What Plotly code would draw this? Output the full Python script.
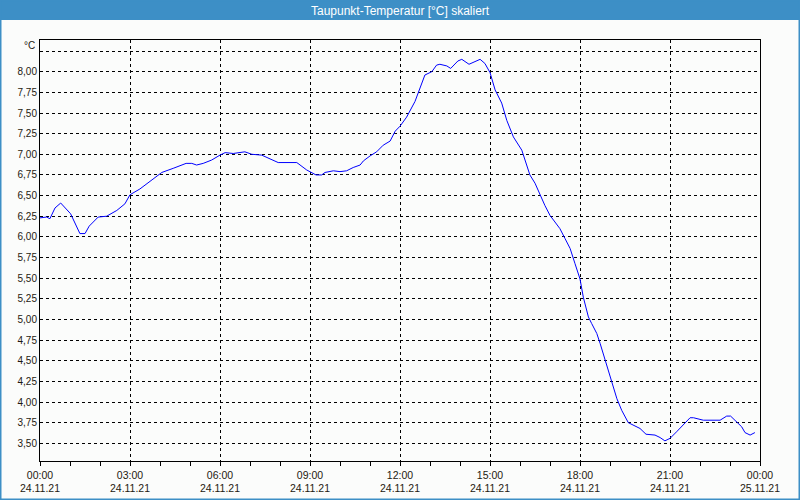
import plotly.graph_objects as go

# ---- data (hours since 24.11.21 00:00, dew point in °C) ----
hours = [0.0, 0.22, 0.33, 0.5, 0.69, 1.02, 1.33, 1.5, 1.64, 1.94, 2.22, 2.56, 2.83, 3.0,
         3.33, 3.67, 4.06, 4.44, 4.87, 5.06, 5.22, 5.44, 5.72, 6.0, 6.17, 6.44, 6.83,
         7.06, 7.39, 7.94, 8.56, 8.89, 9.2, 9.39, 9.5, 9.78, 10.0, 10.22, 10.44, 10.67,
         10.78, 11.0, 11.22, 11.44, 11.67, 11.84, 12.0, 12.22, 12.5, 12.83, 13.06, 13.22,
         13.33, 13.56, 13.69, 13.93, 14.06, 14.3, 14.57, 14.67, 14.83, 15.0, 15.17, 15.39,
         15.56, 15.78, 16.06, 16.17, 16.33, 16.5, 16.67, 16.83, 17.0, 17.17, 17.33, 17.5,
         17.67, 17.83, 18.0, 18.11, 18.28, 18.39, 18.56, 18.67, 18.83, 19.06, 19.23, 19.39,
         19.61, 20.0, 20.2, 20.5, 20.67, 20.83, 21.0, 21.22, 21.44, 21.67, 21.78, 22.11,
         22.67, 22.89, 23.02, 23.22, 23.39, 23.5, 23.67, 23.83]
dewpoint = [6.23, 6.24, 6.22, 6.35, 6.41, 6.28, 6.04, 6.04, 6.13, 6.24, 6.25, 6.32, 6.40, 6.51,
            6.58, 6.67, 6.78, 6.83, 6.89, 6.89, 6.87, 6.89, 6.93, 6.99, 7.02, 7.01, 7.03,
            7.00, 6.99, 6.90, 6.90, 6.81, 6.75, 6.75, 6.78, 6.80, 6.79, 6.80, 6.84, 6.87,
            6.92, 6.98, 7.03, 7.11, 7.16, 7.28, 7.34, 7.45, 7.64, 7.96, 8.00, 8.08,
            8.09, 8.07, 8.04, 8.13, 8.15, 8.09, 8.13, 8.15, 8.10, 7.99, 7.78, 7.62,
            7.41, 7.21, 7.05, 6.93, 6.75, 6.65, 6.50, 6.38, 6.26, 6.18, 6.10, 5.98,
            5.86, 5.68, 5.49, 5.27, 5.03, 4.95, 4.83, 4.71, 4.51, 4.25, 4.04, 3.90,
            3.75, 3.68, 3.61, 3.60, 3.57, 3.53, 3.56, 3.64, 3.72, 3.81, 3.81, 3.78,
            3.78, 3.83, 3.83, 3.76, 3.70, 3.63, 3.60, 3.63]

x_tick_vals = [0, 3, 6, 9, 12, 15, 18, 21, 24]
x_tick_times = ["00:00", "03:00", "06:00", "09:00", "12:00", "15:00", "18:00", "21:00", "00:00"]
x_tick_dates = ["24.11.21"] * 8 + ["25.11.21"]
y_tick_vals = [3.50, 3.75, 4.00, 4.25, 4.50, 4.75, 5.00, 5.25, 5.50, 5.75, 6.00, 6.25,
               6.50, 6.75, 7.00, 7.25, 7.50, 7.75, 8.00, 8.25]
y_tick_text = [f"{v:.2f}".replace(".", ",") for v in y_tick_vals[:-1]] + [""]

title_text = "Taupunkt-Temperatur [°C] skaliert"
unit_text = "°C"

W, H = 800, 500
ML, MR, MT, MB = 40, 40, 40, 39
PW, PH = W - ML - MR, H - MT - MB
BLUE = "#3d8fc6"
BG = "#fbfcfb"
FONT = "Liberation Sans"
TXT = "#1e1a10"

def px(x):
    return (x - ML) / PW

def py(y):
    return (H - MB - y) / PH

fig = go.Figure()
fig.add_trace(go.Scatter(x=hours, y=dewpoint, mode="lines",
                         line=dict(color="#0000ff", width=1), showlegend=False,
                         hoverinfo="skip"))

fig.update_layout(
    width=W, height=H,
    margin=dict(l=ML, r=MR, t=MT, b=MB, pad=0, autoexpand=False),
    paper_bgcolor=BG, plot_bgcolor=BG,
    font=dict(family=FONT, size=10, color=TXT),
    xaxis=dict(
        range=[0, 24], tickmode="array", tickvals=x_tick_vals,
        ticktext=[f"{t}<br>{d}" for t, d in zip(x_tick_times, x_tick_dates)],
        showgrid=True, gridcolor="#000000", gridwidth=1, griddash="3px,3px",
        showline=True, linecolor="#000000", linewidth=1, mirror=True,
        ticks="outside", ticklen=4, tickcolor="#000000", tickwidth=1,
        minor=dict(dtick=1, tick0=0, ticks="outside", ticklen=4, tickcolor="#000000",
                   tickwidth=1, showgrid=False),
        zeroline=False, fixedrange=True, automargin=False, ticklabelstandoff=0,
        tickfont=dict(size=10.5),
    ),
    yaxis=dict(
        range=[3.286, 8.384], tickmode="array", tickvals=y_tick_vals, ticktext=y_tick_text,
        showgrid=True, gridcolor="#000000", gridwidth=1, griddash="3px,3px",
        showline=True, linecolor="#000000", linewidth=1, mirror=True,
        ticks="", zeroline=False, fixedrange=True, automargin=False,
    ),
)

# title bar and frame border
fig.add_shape(type="rect", xref="paper", yref="paper",
              x0=px(0), x1=px(W), y0=py(20), y1=py(0),
              fillcolor=BLUE, line=dict(width=0), layer="below")
fig.add_shape(type="rect", xref="paper", yref="paper",
              x0=px(0.5), x1=px(W - 0.5), y0=py(H - 0.5), y1=py(0.5),
              fillcolor="rgba(0,0,0,0)", line=dict(color=BLUE, width=2))

fig.add_annotation(text=title_text, xref="paper", yref="paper", x=px(400), y=py(10.5),
                   xanchor="center", yanchor="middle", showarrow=False,
                   font=dict(family=FONT, size=12, color="#ffffff"))
fig.add_annotation(text=unit_text, xref="paper", yref="paper", x=px(37), y=py(45),
                   xanchor="right", yanchor="middle", showarrow=False,
                   font=dict(family=FONT, size=10, color=TXT))

fig.write_html("out.html", config={"displayModeBar": False},
               post_script="document.body.style.margin='0';document.body.style.overflow='hidden';")
